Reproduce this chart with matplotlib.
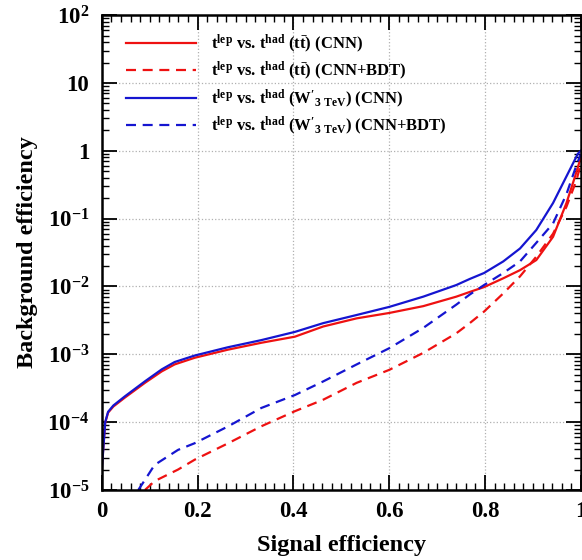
import numpy as np
import matplotlib
matplotlib.use('Agg')
from matplotlib import pyplot as plt
from matplotlib.ticker import FixedLocator, MultipleLocator, LogLocator, NullFormatter

plt.rcParams['font.family'] = 'Liberation Serif'
plt.rcParams['font.weight'] = 'bold'
plt.rcParams['mathtext.fontset'] = 'custom'
plt.rcParams['mathtext.rm'] = 'Liberation Serif:bold'
plt.rcParams['mathtext.bf'] = 'Liberation Serif:bold'
plt.rcParams['mathtext.it'] = 'Liberation Serif:bold'
plt.rcParams['mathtext.default'] = 'bf'

# ROC curves: signal efficiency vs background efficiency
sig_tt_cnn = [0.0, 0.007, 0.013, 0.024, 0.048, 0.09, 0.125, 0.152, 0.194, 0.263, 0.333,
              0.403, 0.462, 0.532, 0.6, 0.671, 0.74, 0.768, 0.798, 0.838, 0.873, 0.907,
              0.942, 0.970, 0.988, 1.0]
bkg_tt_cnn = [2.2e-5, 9.8e-5, 1.38e-4, 1.7e-4, 2.3e-4, 3.8e-4, 5.6e-4, 7.1e-4, 8.9e-4,
              1.17e-3, 1.48e-3, 1.82e-3, 2.57e-3, 3.39e-3, 4.07e-3, 5.13e-3, 7.08e-3,
              8.3e-3, 9.8e-3, 1.32e-2, 1.74e-2, 2.45e-2, 5.4e-2, 0.17, 0.42, 0.8]

sig_tt_bdt = [0.09, 0.11, 0.159, 0.194, 0.264, 0.333, 0.403, 0.462, 0.532, 0.6, 0.671,
              0.74, 0.768, 0.798, 0.838, 0.873, 0.907, 0.942, 0.970, 0.991, 1.0]
bkg_tt_bdt = [1.0e-5, 1.35e-5, 2.0e-5, 2.8e-5, 4.9e-5, 8.7e-5, 1.45e-4, 2.14e-4, 3.8e-4,
              5.9e-4, 1.05e-3, 2.04e-3, 2.88e-3, 4.27e-3, 7.9e-3, 1.41e-2, 2.75e-2,
              6.0e-2, 0.15, 0.37, 0.65]

sig_w_cnn = [0.0, 0.007, 0.013, 0.024, 0.048, 0.09, 0.125, 0.152, 0.194, 0.263, 0.333,
             0.403, 0.462, 0.532, 0.6, 0.671, 0.74, 0.768, 0.798, 0.838, 0.873, 0.907,
             0.942, 0.970, 0.994, 1.0]
bkg_w_cnn = [2.0e-5, 1.0e-4, 1.42e-4, 1.76e-4, 2.4e-4, 4.0e-4, 6.0e-4, 7.7e-4, 9.6e-4,
             1.27e-3, 1.62e-3, 2.14e-3, 2.88e-3, 3.8e-3, 5.0e-3, 7.08e-3, 1.05e-2,
             1.29e-2, 1.58e-2, 2.34e-2, 3.63e-2, 6.8e-2, 0.17, 0.42, 0.91, 1.0]

sig_w_bdt = [0.076, 0.09, 0.11, 0.159, 0.194, 0.264, 0.333, 0.403, 0.462, 0.532, 0.6,
             0.671, 0.74, 0.768, 0.798, 0.838, 0.873, 0.907, 0.942, 0.970, 0.99, 1.0]
bkg_w_bdt = [1.0e-5, 1.41e-5, 2.34e-5, 3.9e-5, 4.9e-5, 8.7e-5, 1.62e-4, 2.51e-4, 3.98e-4,
             7.1e-4, 1.23e-3, 2.45e-3, 5.4e-3, 7.6e-3, 1.05e-2, 1.58e-2, 2.34e-2,
             4.4e-2, 8.5e-2, 0.23, 0.59, 0.9]

labels = [r"$t^{lep}$ vs. $t^{had}$ $(t\bar{t})$ (CNN)",
          r"$t^{lep}$ vs. $t^{had}$ $(t\bar{t})$ (CNN+BDT)",
          r"$t^{lep}$ vs. $t^{had}$ $(W'_{3\ TeV})$ (CNN)",
          r"$t^{lep}$ vs. $t^{had}$ $(W'_{3\ TeV})$ (CNN+BDT)"]

red = '#ee1111'
blue = '#1515d0'
dash = (0, (4.5, 3))

fig = plt.figure(figsize=(5.82, 5.6), dpi=100)
ax = fig.add_axes([0.175, 0.125, 0.823, 0.848])

ax.plot(sig_tt_cnn, bkg_tt_cnn, color=red, lw=1.6, label=labels[0])
ax.plot(sig_tt_bdt, bkg_tt_bdt, color=red, lw=1.6, ls=dash, label=labels[1])
ax.plot(sig_w_cnn, bkg_w_cnn, color=blue, lw=1.6, label=labels[2])
ax.plot(sig_w_bdt, bkg_w_bdt, color=blue, lw=1.6, ls=dash, label=labels[3])

ax.set_yscale('log')
ax.set_xlim(0, 1)
ax.set_ylim(1e-5, 1e2)

ax.xaxis.set_minor_locator(MultipleLocator(0.02))
ax.set_xticks([0, 0.2, 0.4, 0.6, 0.8, 1.0])
ax.set_xticklabels(['0', '0.2', '0.4', '0.6', '0.8', '1'])

yt = [1e-5, 1e-4, 1e-3, 1e-2, 1e-1, 1, 10, 100]
ax.yaxis.set_major_locator(FixedLocator(yt))
ax.set_yticklabels([r'$10^{-5}$', r'$10^{-4}$', r'$10^{-3}$', r'$10^{-2}$',
                    r'$10^{-1}$', '1', '10', r'$10^{2}$'])
ax.yaxis.set_minor_locator(LogLocator(base=10, subs=np.arange(2, 10), numticks=20))
ax.yaxis.set_minor_formatter(NullFormatter())

ax.tick_params(which='both', direction='in', top=True, right=True, labelsize=16.5)
ax.tick_params(which='major', length=11, width=1.3)
ax.tick_params(which='minor', length=5, width=1.0)
ax.tick_params(axis='x', which='major', pad=8)
ax.tick_params(axis='y', which='major', pad=9)
for sp in ax.spines.values():
    sp.set_linewidth(1.8)

ax.grid(True, which='major', ls=':', color='#b0b0b0', lw=0.9)

ax.set_xlabel('Signal efficiency', fontsize=17.5, fontweight='bold', labelpad=9)
ax.set_ylabel('Background efficiency', fontsize=17.5, fontweight='bold', labelpad=7)

leg = ax.legend(loc='upper left', bbox_to_anchor=(0.02, 0.995), frameon=False,
                fontsize=12, handlelength=4.2, handletextpad=0.9, labelspacing=0.3)

fig.savefig('out.png', dpi=100)
